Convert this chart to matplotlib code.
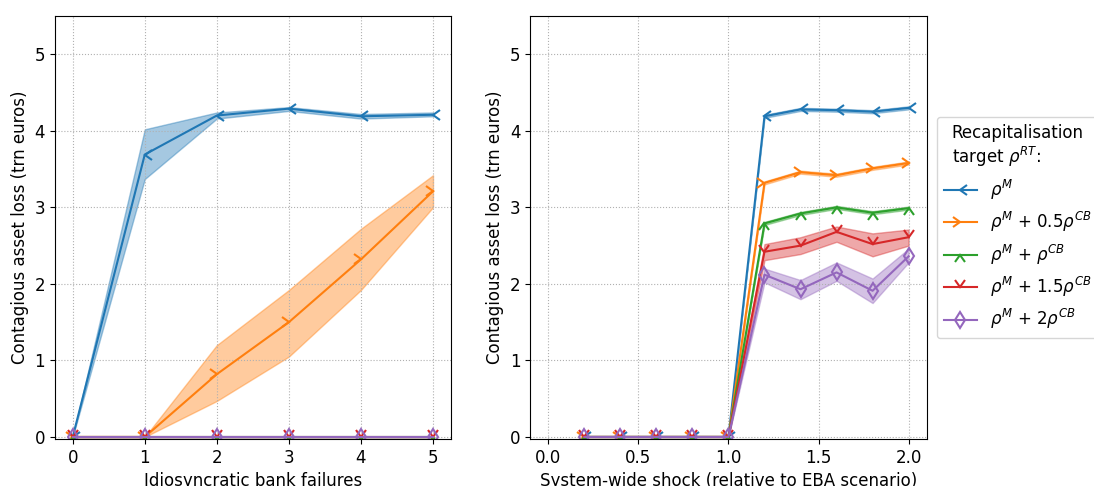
import numpy as np
import matplotlib
matplotlib.use("Agg")
import matplotlib.pyplot as plt

plt.rcParams['font.size'] = 12

etykiety = [r"$\rho^M$", r"$\rho^M$ + 0.5$\rho^{CB}$", r"$\rho^M$ + $\rho^{CB}$",
            r"$\rho^M$ + 1.5$\rho^{CB}$", r"$\rho^M$ + 2$\rho^{CB}$"]
kolory = ['tab:blue', 'tab:orange', 'tab:green', 'tab:red', 'tab:purple']
# otwarte "daszki" (caret) i cienki romb
markery = [4, 5, 6, 7, 'd']
rozmiary = [7, 7, 7, 7, 8]

# lewy panel: idiosynkratyczne upadlosci
upadlosci = [0, 1, 2, 3, 4, 5]
lewy_srednia = [
    [0, 3.69, 4.20, 4.29, 4.19, 4.21],
    [0, 0, 0.82, 1.50, 2.32, 3.21],
    [0, 0, 0, 0, 0, 0],
    [0, 0, 0, 0, 0, 0],
    [0, 0, 0, 0, 0, 0],
]
lewy_dol = [
    [0, 3.37, 4.16, 4.26, 4.16, 4.19],
    [0, 0, 0.47, 1.05, 1.92, 3.00],
    [0, 0, 0, 0, 0, 0],
    [0, 0, 0, 0, 0, 0],
    [0, 0, 0, 0, 0, 0],
]
lewy_gora = [
    [0, 4.02, 4.24, 4.31, 4.22, 4.24],
    [0, 0, 1.20, 1.92, 2.72, 3.42],
    [0, 0, 0, 0, 0, 0],
    [0, 0, 0, 0, 0, 0],
    [0, 0, 0, 0, 0, 0],
]

# prawy panel: szok systemowy
szok = [0.2, 0.4, 0.6, 0.8, 1.0, 1.2, 1.4, 1.6, 1.8, 2.0]
prawy_srednia = [
    [0, 0, 0, 0, 0, 4.19, 4.28, 4.27, 4.25, 4.30],
    [0, 0, 0, 0, 0, 3.32, 3.46, 3.42, 3.51, 3.58],
    [0, 0, 0, 0, 0, 2.79, 2.92, 3.00, 2.93, 2.99],
    [0, 0, 0, 0, 0, 2.42, 2.50, 2.68, 2.52, 2.61],
    [0, 0, 0, 0, 0, 2.12, 1.93, 2.15, 1.91, 2.36],
]
prawy_dol = [
    [0, 0, 0, 0, 0, 4.17, 4.26, 4.25, 4.23, 4.28],
    [0, 0, 0, 0, 0, 3.30, 3.44, 3.40, 3.49, 3.56],
    [0, 0, 0, 0, 0, 2.77, 2.90, 2.98, 2.91, 2.97],
    [0, 0, 0, 0, 0, 2.31, 2.39, 2.55, 2.36, 2.50],
    [0, 0, 0, 0, 0, 2.02, 1.80, 2.04, 1.75, 2.28],
]
prawy_gora = [
    [0, 0, 0, 0, 0, 4.21, 4.30, 4.29, 4.27, 4.32],
    [0, 0, 0, 0, 0, 3.34, 3.48, 3.44, 3.53, 3.60],
    [0, 0, 0, 0, 0, 2.81, 2.94, 3.02, 2.95, 3.01],
    [0, 0, 0, 0, 0, 2.52, 2.61, 2.75, 2.66, 2.71],
    [0, 0, 0, 0, 0, 2.20, 2.05, 2.28, 2.07, 2.46],
]

fig, (ax1, ax2) = plt.subplots(1, 2, figsize=(10.94, 4.86), dpi=100)
fig.subplots_adjust(left=0.050, right=0.847, bottom=0.097, top=0.967, wspace=0.2)

for i in range(5):
    styl = dict(color=kolory[i], marker=markery[i], markersize=rozmiary[i],
                markeredgewidth=1.5, fillstyle='none', linewidth=1.5, label=etykiety[i])
    ax1.fill_between(upadlosci, lewy_dol[i], lewy_gora[i], color=kolory[i], alpha=0.4)
    ax1.plot(upadlosci, lewy_srednia[i], **styl)
    ax2.fill_between(szok, prawy_dol[i], prawy_gora[i], color=kolory[i], alpha=0.4)
    ax2.plot(szok, prawy_srednia[i], **styl)

for ax in (ax1, ax2):
    ax.set_ylim(-0.025, 5.5)
    ax.set_yticks([0, 1, 2, 3, 4, 5])
    ax.grid(linestyle=':')
    ax.set_ylabel("Contagious asset loss (trn euros)")

ax1.set_xticks(upadlosci)
ax1.set_xlabel("Idiosyncratic bank failures")
ax2.set_xlim(-0.1, 2.1)
ax2.set_xticks([0.0, 0.5, 1.0, 1.5, 2.0])
ax2.set_xlabel("System-wide shock (relative to EBA scenario)")

leg = ax2.legend(title="Recapitalisation\ntarget $\\rho^{RT}$:", loc='center left',
                 bbox_to_anchor=(1.005, 0.5))
leg.get_title().set_multialignment('left')

plt.savefig("out.png")
plt.close()
